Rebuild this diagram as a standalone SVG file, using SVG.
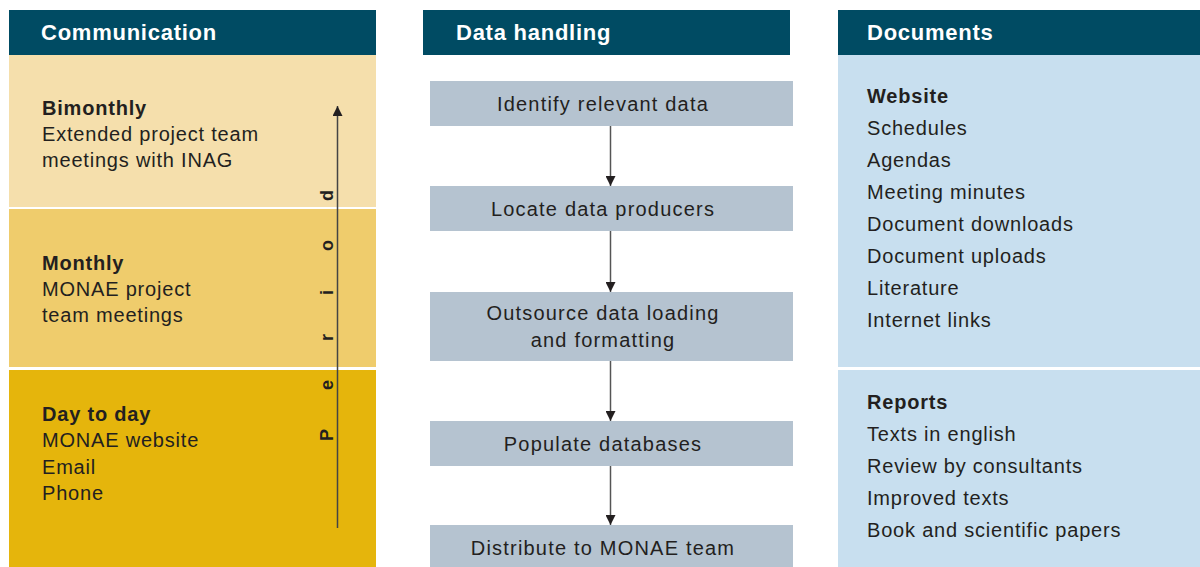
<svg xmlns="http://www.w3.org/2000/svg" width="1200" height="567" viewBox="0 0 1200 567">
<style>
.hdr{fill:#004B63}
.ht{font-family:"Liberation Sans",Arial,sans-serif;font-weight:bold;font-size:22px;fill:#fff;letter-spacing:0.75px}
.t{font-family:"Liberation Sans",Arial,sans-serif;font-size:20px;fill:#231f20;letter-spacing:0.8px}
.b{font-weight:bold}
.box{fill:#B5C3D0}
.bt{font-family:"Liberation Sans",Arial,sans-serif;font-size:20px;fill:#231f20;text-anchor:middle;letter-spacing:1.2px}
.conn{stroke:#555;stroke-width:1.5;fill:none}
</style>
<defs>
<marker id="ah" markerWidth="10" markerHeight="10" refX="10" refY="5" orient="auto" markerUnits="userSpaceOnUse">
<path d="M0,0 L10,5 L0,10 Z" fill="#231f20"/>
</marker>
</defs>
<rect width="1200" height="567" fill="#fff"/>

<g id="communication">
<rect class="hdr" x="9" y="10" width="367" height="45"/>
<text class="ht" x="41" y="40">Communication</text>
<rect x="9" y="55" width="367" height="152" fill="#F5DFAC"/>
<rect x="9" y="209" width="367" height="158" fill="#EFCC6C"/>
<rect x="9" y="370" width="367" height="197" fill="#E5B50C"/>
</g>
<g id="bimonthly">
<text class="t b" x="42" y="115">Bimonthly</text>
<text class="t" x="42" y="141">Extended project team</text>
<text class="t" x="42" y="167">meetings with INAG</text>
</g>
<g id="monthly">
<text class="t b" x="42" y="270">Monthly</text>
<text class="t" x="42" y="296">MONAE project</text>
<text class="t" x="42" y="322">team meetings</text>
</g>
<g id="daytoday">
<text class="t b" x="42" y="421">Day to day</text>
<text class="t" x="42" y="447">MONAE website</text>
<text class="t" x="42" y="474">Email</text>
<text class="t" x="42" y="500">Phone</text>
</g>
<g id="period">
<line x1="337.5" y1="528" x2="337.5" y2="106" stroke="#444" stroke-width="1.5" marker-end="url(#ah)"/>
<text transform="translate(333,441) rotate(-90)" font-family="'Liberation Sans',Arial,sans-serif" font-weight="bold" font-size="18" fill="#231f20" letter-spacing="39">Period</text>
</g>

<g id="datahandling">
<rect class="hdr" x="423" y="10" width="367" height="45"/>
<text class="ht" x="456" y="40">Data handling</text>
</g>
<g id="n1"><rect class="box" x="430" y="81" width="363" height="45"/><text class="bt" x="603" y="111">Identify relevant data</text></g>
<g id="n2"><rect class="box" x="430" y="186" width="363" height="45"/><text class="bt" x="603" y="216">Locate data producers</text></g>
<g id="n3"><rect class="box" x="430" y="292" width="363" height="69"/><text class="bt" x="603" y="320">Outsource data loading</text><text class="bt" x="603" y="347">and formatting</text></g>
<g id="n4"><rect class="box" x="430" y="421" width="363" height="45"/><text class="bt" x="603" y="451">Populate databases</text></g>
<g id="n5"><rect class="box" x="430" y="525" width="363" height="42"/><text class="bt" x="603" y="555">Distribute to MONAE team</text></g>

<g id="connectors">
<line class="conn" x1="610.5" y1="126" x2="610.5" y2="186" marker-end="url(#ah)"/>
<line class="conn" x1="610.5" y1="231" x2="610.5" y2="292" marker-end="url(#ah)"/>
<line class="conn" x1="610.5" y1="361" x2="610.5" y2="421" marker-end="url(#ah)"/>
<line class="conn" x1="610.5" y1="466" x2="610.5" y2="525" marker-end="url(#ah)"/>
</g>

<g id="documents">
<rect class="hdr" x="838" y="10" width="362" height="45"/>
<text class="ht" x="867" y="40">Documents</text>
<rect x="838" y="55" width="362" height="312" fill="#C8DFEF"/>
<rect x="838" y="370" width="362" height="197" fill="#C8DFEF"/>
</g>
<g id="website">
<text class="t b" x="867" y="103">Website</text>
<text class="t" x="867" y="135">Schedules</text>
<text class="t" x="867" y="167">Agendas</text>
<text class="t" x="867" y="199">Meeting minutes</text>
<text class="t" x="867" y="231">Document downloads</text>
<text class="t" x="867" y="263">Document uploads</text>
<text class="t" x="867" y="295">Literature</text>
<text class="t" x="867" y="327">Internet links</text>
</g>
<g id="reports">
<text class="t b" x="867" y="409">Reports</text>
<text class="t" x="867" y="441">Texts in english</text>
<text class="t" x="867" y="473">Review by consultants</text>
<text class="t" x="867" y="505">Improved texts</text>
<text class="t" x="867" y="537">Book and scientific papers</text>
</g>
</svg>
